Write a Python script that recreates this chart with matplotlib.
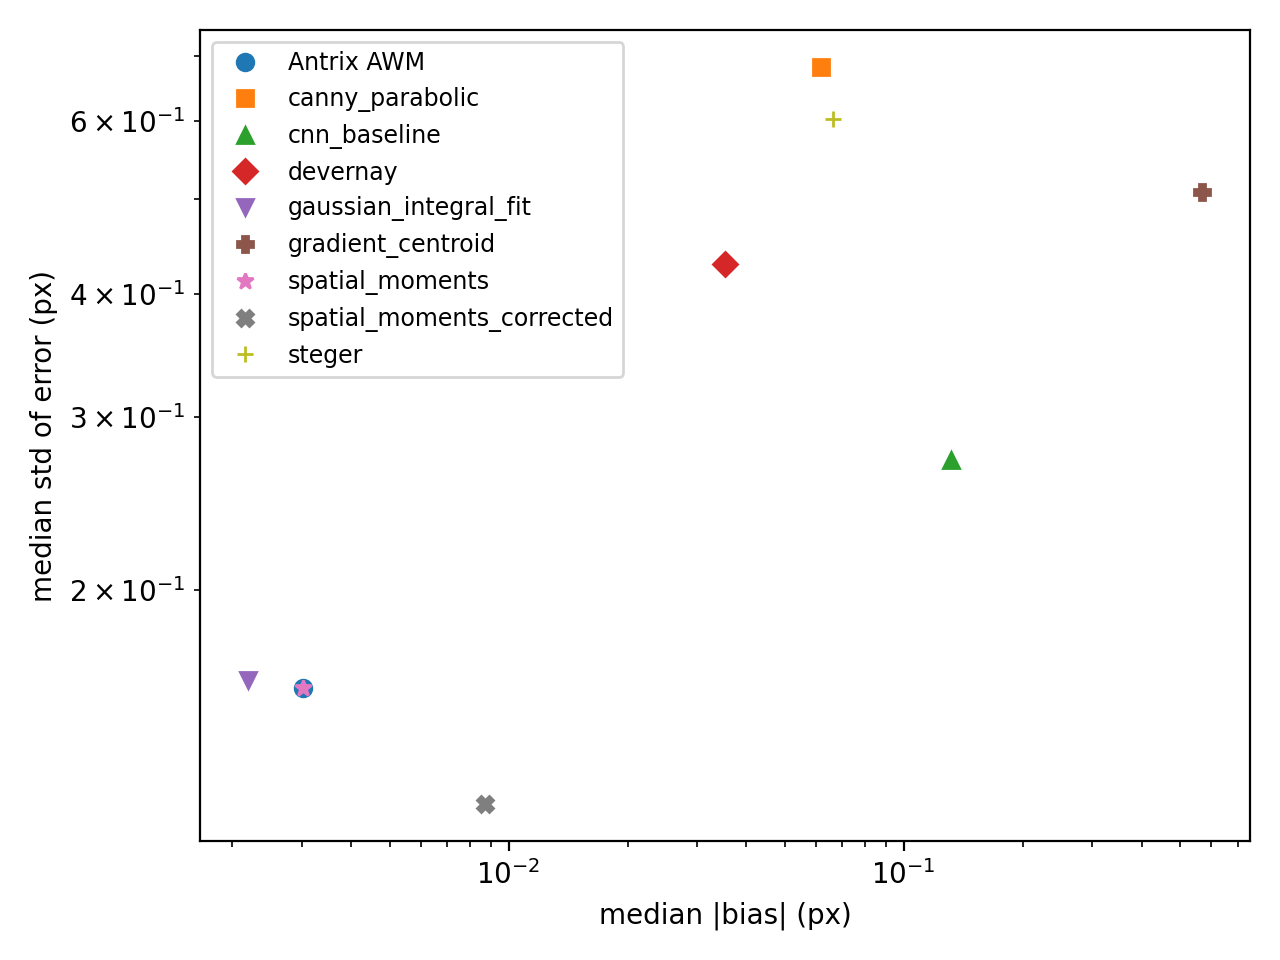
import matplotlib
matplotlib.use("Agg")
import matplotlib.pyplot as plt

names = ["Antrix AWM", "canny_parabolic", "cnn_baseline", "devernay", "gaussian_integral_fit",
         "gradient_centroid", "spatial_moments", "spatial_moments_corrected", "steger"]
bias = [0.00302, 0.0619, 0.1315, 0.0353, 0.00219, 0.570, 0.00302, 0.00874, 0.0661]
std = [0.159, 0.682, 0.271, 0.430, 0.162, 0.508, 0.159, 0.121, 0.604]
markers = ["o", "s", "^", "D", "v", "P", "*", "X", "+"]

fig, ax = plt.subplots(figsize=(6.4, 4.8), dpi=200)
for i, (n, b, s, m) in enumerate(zip(names, bias, std, markers)):
    ax.plot([b], [s], linestyle="none", marker=m, markersize=6, color=f"C{i}", label=n)
ax.set_xscale("log")
ax.set_yscale("log")
ax.set_xlabel("median |bias| (px)")
ax.set_ylabel("median std of error (px)")
ax.legend(loc="upper left", fontsize=8.5)
fig.tight_layout()
fig.savefig("out.png")
